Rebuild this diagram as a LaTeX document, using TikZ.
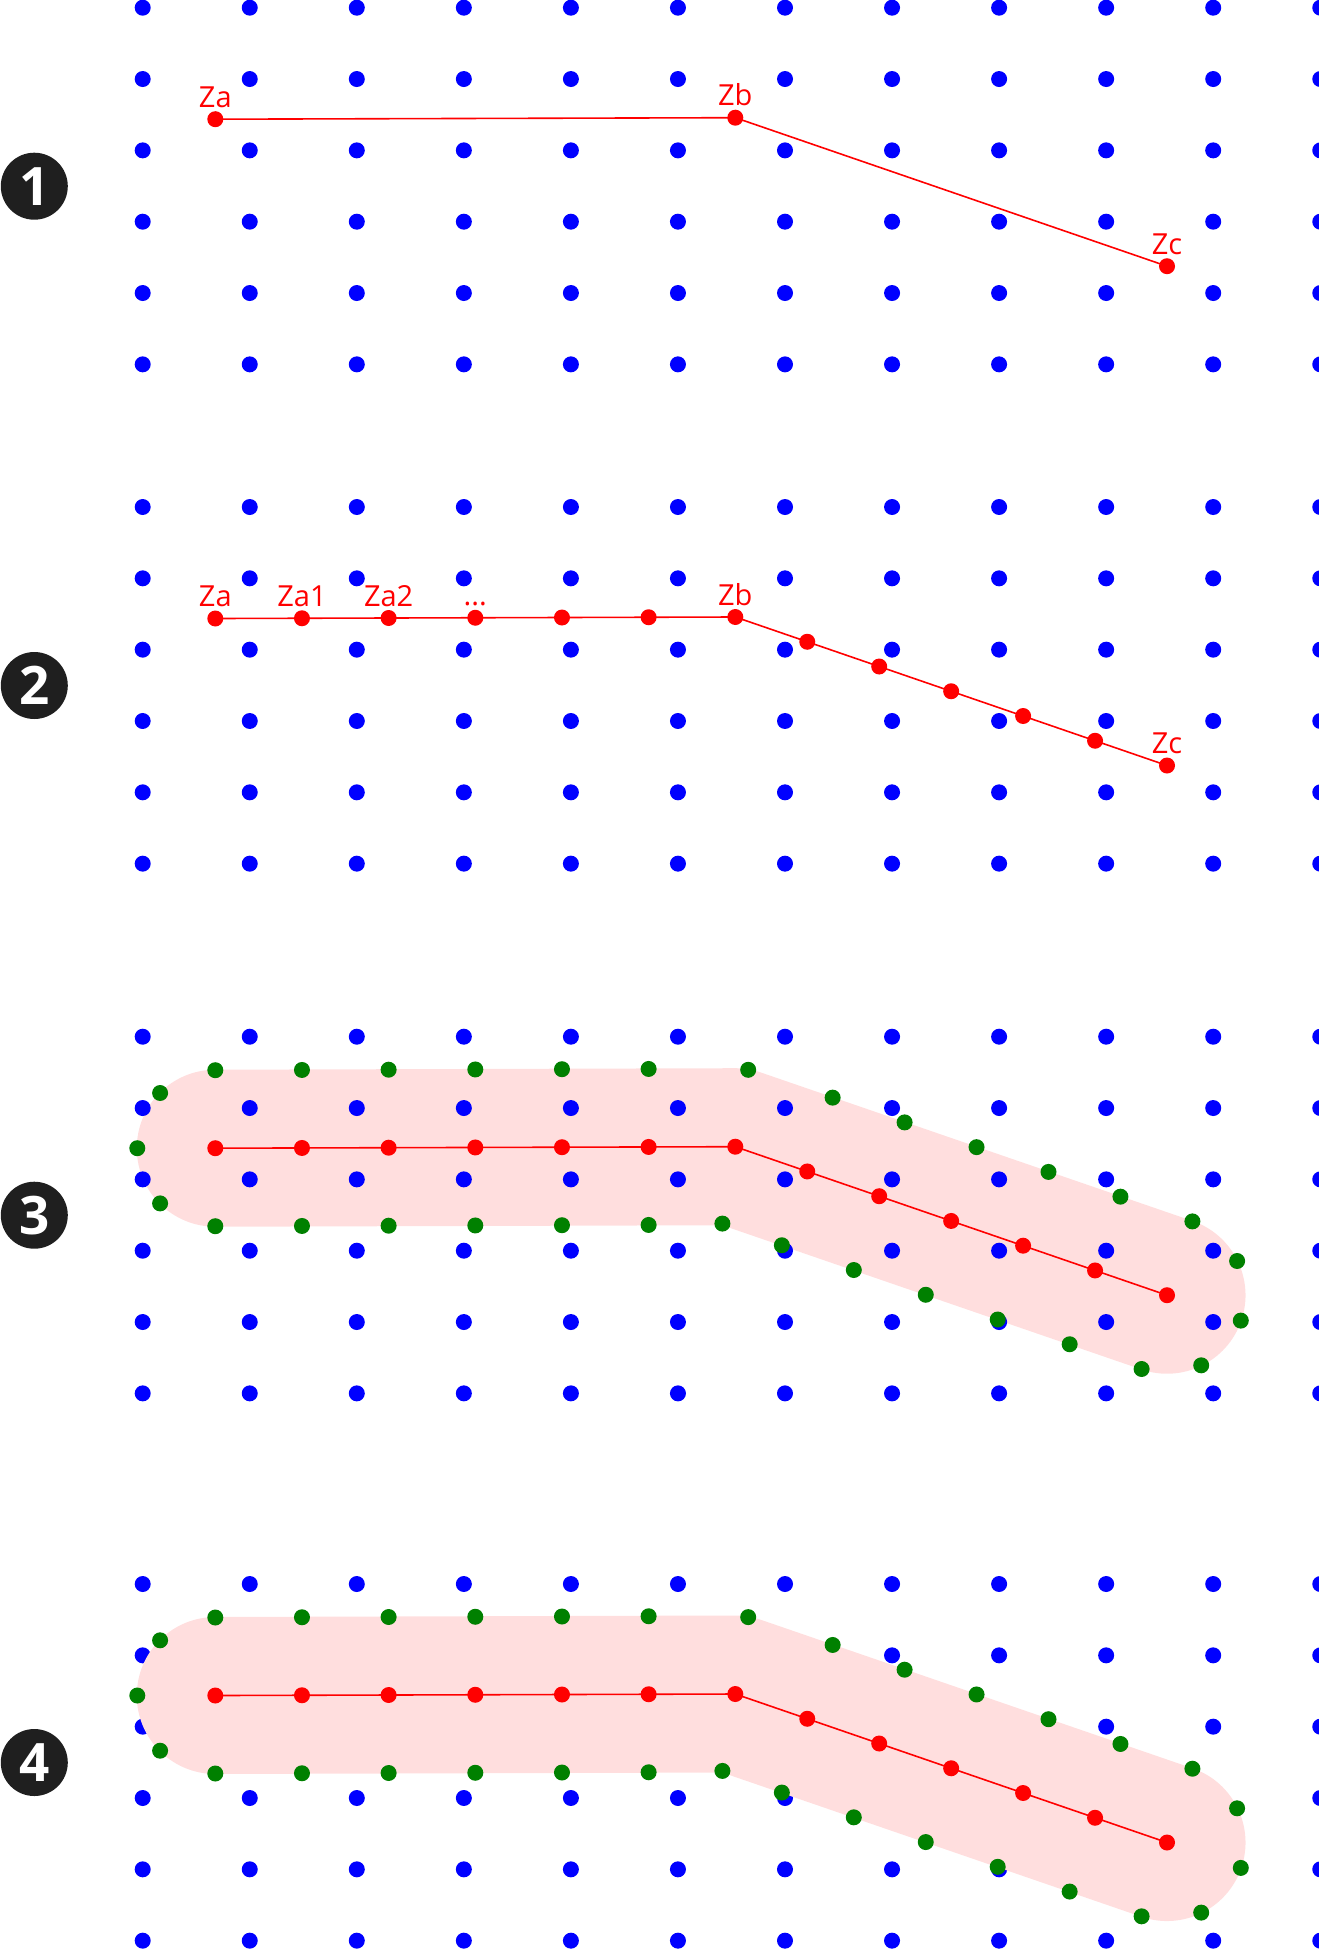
\documentclass[tikz,border=0pt]{standalone}
\usepackage{fontspec}
\setsansfont{Open Sans}
\usetikzlibrary{calc}

\begin{document}
\begin{tikzpicture}[x=1pt,y=-1pt,
        gdot/.style={circle,fill=blue,inner sep=0pt,minimum size=16pt},
        rdot/.style={circle,fill=red,inner sep=0pt,minimum size=16pt},
        edot/.style={circle,fill=green!50!black,inner sep=0pt,minimum size=16pt},
        seg/.style={red,line width=1.6pt},
        band/.style={red!13,line width=157pt,line cap=round,line join=round},
        lbl/.style={red,font=\sffamily\fontsize{29}{29}\selectfont,
                    inner sep=0pt,anchor=base,yshift=12pt},
        num/.style={circle,fill=black!88,text=white,minimum size=67pt,inner sep=0pt,
                    font=\sffamily\bfseries\fontsize{53}{53}\selectfont}]
    \useasboundingbox (0,0) rectangle (1319,1949);

    % corner points of the line, one set per panel
    \foreach \n/\r in {1/7.7,2/507,3/1036.7,4/1584} {
        \coordinate (za\n) at (215.3,\r+111.5);
        \coordinate (zb\n) at (735.3,\r+110);
        \coordinate (zc\n) at (1167,\r+258.5);
        \node[num] (step\n) at (34.3,\r+178.5) {\n};
    }
    % resampled points
    \foreach \n in {2,3,4} {
        \foreach \i in {0,...,6}
            \coordinate (p\n-\i) at ($(za\n)!\i/6!(zb\n)$);
        \foreach \i in {1,...,6}
            \coordinate (q\n-\i) at ($(zb\n)!\i/6!(zc\n)$);
    }

    % buffer under the grid
    \draw[band] (za3) -- (zb3) -- (zc3);

    % grid
    \foreach \n/\r in {1/7.7,2/507,3/1036.7,4/1584}
        \foreach \j in {0,...,5}
            \foreach \k in {0,...,11}
                \node[gdot] (d\n-\j-\k) at ({142.7+107.05*\k},{\r+71.33*\j}) {};

    % buffer over the grid
    \draw[band] (za4) -- (zb4) -- (zc4);

    % panel 1
    \draw[seg] (za1) -- (zb1) -- (zc1);
    \node[rdot] (a1) at (za1) {};
    \node[rdot] (b1) at (zb1) {};
    \node[rdot] (c1) at (zc1) {};
    \node[lbl] (la1) at (za1) {Za};
    \node[lbl] (lb1) at (zb1) {Zb};
    \node[lbl] (lc1) at (zc1) {Zc};

    % panels 2-4
    \foreach \n in {2,3,4} {
        \draw[seg] (za\n) -- (zb\n) -- (zc\n);
        \foreach \i in {0,...,6}
            \node[rdot] (r\n-\i) at (p\n-\i) {};
        \foreach \i in {1,...,6}
            \node[rdot] (s\n-\i) at (q\n-\i) {};
    }
    \node[lbl] (la2) at (za2) {Za};
    \node[lbl] (la2-1) at (p2-1) {Za1};
    \node[lbl] (la2-2) at (p2-2) {Za2};
    \node[lbl] (la2-3) at (p2-3) {...};
    \node[lbl] (lb2) at (zb2) {Zb};
    \node[lbl] (lc2) at (zc2) {Zc};

    % offset points
    \foreach \n in {3,4} {
        \foreach \i in {0,...,5} {
            \node[edot] (u\n-\i) at ($(p\n-\i)+(0,-78)$) {};
            \node[edot] (v\n-\i) at ($(p\n-\i)+(0,78)$) {};
        }
        \node[edot] (u\n-6) at ($(zb\n)+(12.9,-76.9)$) {};
        \node[edot] (v\n-6) at ($(zb\n)+(-12.9,76.9)$) {};
        \foreach \i in {1,...,6} {
            \node[edot] (x\n-\i) at ($(q\n-\i)+(25.4,-73.8)$) {};
            \node[edot] (y\n-\i) at ($(q\n-\i)+(-25.4,73.8)$) {};
        }
        \foreach \dx/\dy [count=\c] in {-55.2/-55.2,-78/0,-55.2/55.2}
            \node[edot] (ca\n-\c) at ($(za\n)+(\dx,\dy)$) {};
        \foreach \dx/\dy [count=\c] in {70.1/-34.2,73.8/25.4,34.2/70.1}
            \node[edot] (cc\n-\c) at ($(zc\n)+(\dx,\dy)$) {};
    }
\end{tikzpicture}
\end{document}
